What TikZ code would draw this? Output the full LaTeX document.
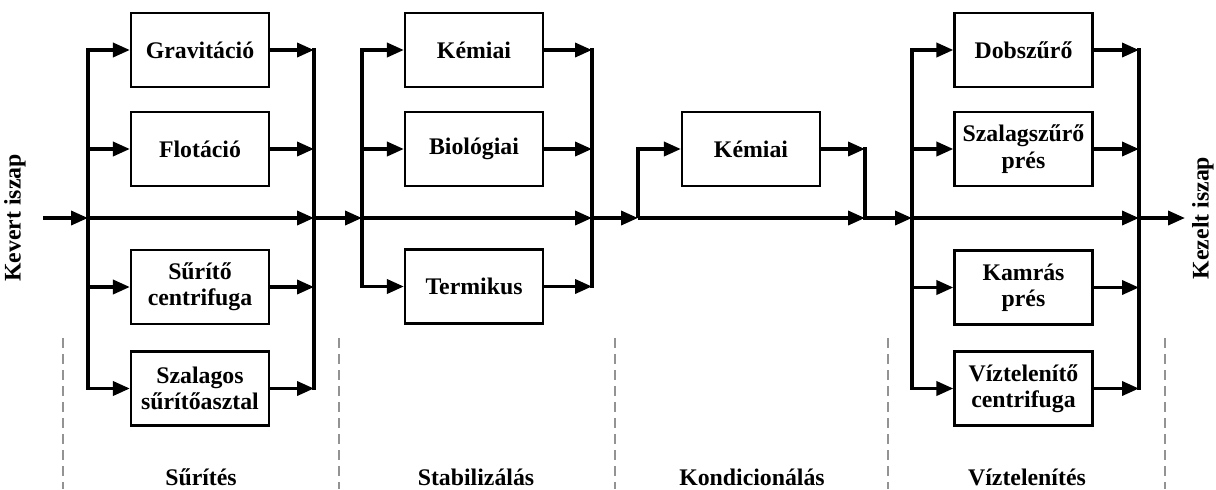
\documentclass[tikz,border=0pt]{standalone}
\usepackage{fontspec}
\setmainfont{Liberation Serif}
\usetikzlibrary{arrows.meta}
\begin{document}
\begin{tikzpicture}[x=0.5pt,y=-0.5pt,
 txt/.style={font=\bfseries\fontsize{11.9}{13.2}\selectfont},
 box/.style={txt, draw, line width=1.1pt, minimum width=69pt, minimum height=37pt, inner sep=0pt, align=center},
 flow/.style={line width=1.8pt, -{Triangle[length=8.5pt,width=7pt]}},
 bar/.style={line width=1.8pt, line cap=rect},
 sep/.style={draw=gray!85, line width=1.3pt, dash pattern=on 5pt off 3pt}]
\useasboundingbox (0,0) rectangle (1216,489);
% side labels
\node[txt, rotate=90] (kin) at (15,218) {Kevert iszap};
\node[txt, rotate=90] (kout) at (1203,218) {Kezelt iszap};
% stage 1
\node[box] (b11) at (200,50) {Gravitáció};
\node[box] (b12) at (200,149) {Flotáció};
\node[box] (b13) at (200,287) {Sűrítő\\centrifuga};
\node[box] (b14) at (200,388.5) {Szalagos\\sűrítőasztal};
% stage 2
\node[box] (b21) at (474,50) {Kémiai};
\node[box] (b22) at (474,149) {Biológiai};
\node[box] (b23) at (474,286.5) {Termikus};
% stage 3
\node[box] (b31) at (751,149) {Kémiai};
% stage 4
\node[box] (b41) at (1023.5,50) {Dobszűrő};
\node[box] (b42) at (1023.5,149) {Szalagszűrő\\prés};
\node[box] (b43) at (1023.5,287.5) {Kamrás\\prés};
\node[box] (b44) at (1023.5,388.5) {Víztelenítő\\centrifuga};
% junction coordinates
\coordinate (in) at (43,218);
\coordinate (j1) at (88,218);
\coordinate (k1) at (314,218);
\coordinate (j2) at (362,218);
\coordinate (k2) at (592,218);
\coordinate (j3) at (638,218);
\coordinate (k3) at (865,218);
\coordinate (j4) at (912,218);
\coordinate (k4) at (1139,218);
\coordinate (out) at (1185,218);
% main line
\draw[flow] (in) -- (j1);
\draw[flow] (j1) -- (k1);
\draw[flow] (k1) -- (j2);
\draw[flow] (j2) -- (k2);
\draw[flow] (k2) -- (j3);
\draw[flow] (j3) -- (k3);
\draw[flow] (k3) -- (j4);
\draw[flow] (j4) -- (k4);
\draw[flow] (k4) -- (out);
% stage 1 split / merge
\draw[bar] (j1 |- b11.west) -- (j1 |- b14.west);
\draw[bar] (k1 |- b11.east) -- (k1 |- b14.east);
\foreach \b in {b11,b12,b13,b14}{
  \draw[flow] (j1 |- \b.west) -- (\b.west);
  \draw[flow] (\b.east) -- (k1 |- \b.east);
}
% stage 2 split / merge
\draw[bar] (j2 |- b21.west) -- (j2 |- b23.west);
\draw[bar] (k2 |- b21.east) -- (k2 |- b23.east);
\foreach \b in {b21,b22,b23}{
  \draw[flow] (j2 |- \b.west) -- (\b.west);
  \draw[flow] (\b.east) -- (k2 |- \b.east);
}
% stage 3
\draw[flow] (j3) |- (b31.west);
\draw[flow] (b31.east) -- (k3 |- b31.east);
\draw[bar] (k3 |- b31.east) -- (k3);
% stage 4 split / merge
\draw[bar] (j4 |- b41.west) -- (j4 |- b44.west);
\draw[bar] (k4 |- b41.east) -- (k4 |- b44.east);
\foreach \b in {b41,b42,b43,b44}{
  \draw[flow] (j4 |- \b.west) -- (\b.west);
  \draw[flow] (\b.east) -- (k4 |- \b.east);
}
% separators
\foreach \x in {63,339,615,888,1165}{
  \draw[sep] (\x,338) -- (\x,489);
}
% stage labels
\node[txt, anchor=base] (l1) at (201,485) {Sűrítés};
\node[txt, anchor=base] (l2) at (476,485) {Stabilizálás};
\node[txt, anchor=base] (l3) at (752,485) {Kondicionálás};
\node[txt, anchor=base] (l4) at (1027,485) {Víztelenítés};
\end{tikzpicture}
\end{document}
